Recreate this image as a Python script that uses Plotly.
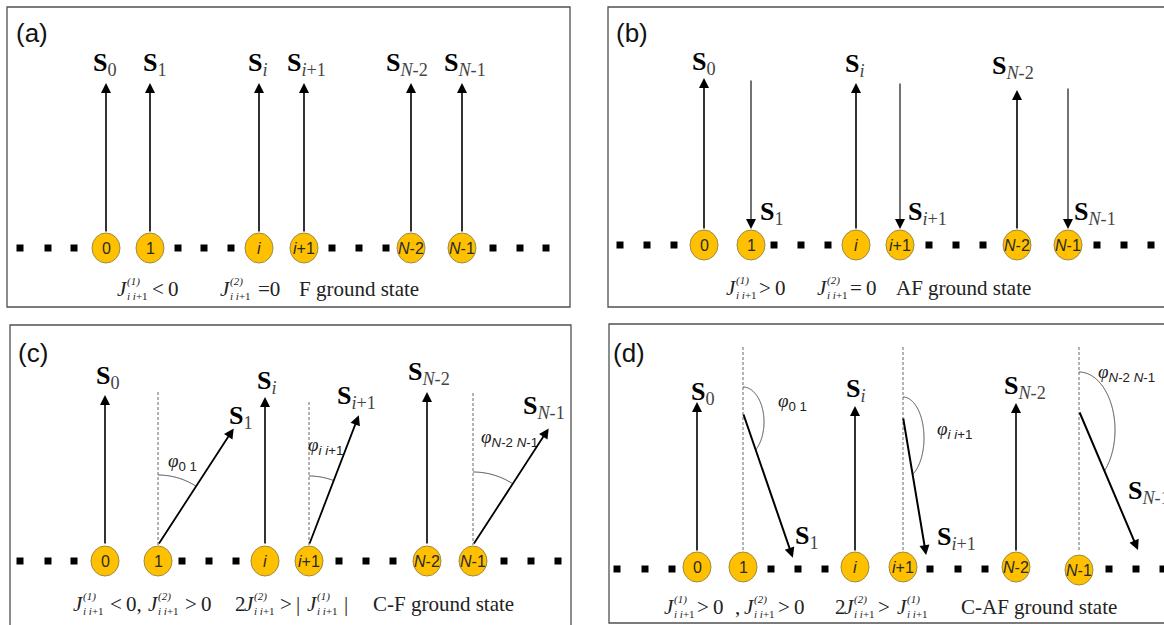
import math
import plotly.graph_objects as go

# ---------------- data ----------------
PANEL_TAGS = ["(a)", "(b)", "(c)", "(d)"]
SITE_LABELS = ["0", "1", "<i>i</i>", "<i>i</i>+1", "<i>N</i>-2", "<i>N</i>-1"]
SPIN_SUBS = ["0", "1", "<i>i</i>", "<i>i</i>+1", "<i>N</i>-2", "<i>N</i>-1"]
# spin direction, degrees clockwise from "up"
SPIN_ANGLE_A = [0, 0, 0, 0, 0, 0]
SPIN_ANGLE_B = [0, 180, 0, 180, 0, 180]
SPIN_ANGLE_C = [0, 33, 0, 21, 0, 33]
SPIN_ANGLE_D = [0, 161, 0, 170.5, 0, 157]
CANTED_SITES = [1, 3, 5]
PHI_SUBS = ["0 1", "<i>i i</i>+1", "<i>N</i>-2 <i>N</i>-1"]
STATE_NAMES = ["F ground state", "AF ground state", "C-F ground state", "C-AF ground state"]
SUP1, SUP2 = "(1)", "(2)"

# ---------------- layout geometry ----------------
SERIF = "Liberation Serif"
SANS = "Liberation Sans"
W, H = 1164, 625

PANELS = [
    dict(box=(7, 7, 570, 307), tag=(15, 33), angles=SPIN_ANGLE_A,
         site_x=[106, 150, 259, 304, 411, 462], site_y=[248] * 6,
         dots_x=[20, 48, 74, 178, 204, 231, 332, 359, 386, 493, 520, 546], dots_y=248,
         tail_y=[233] * 6, length=[150] * 6, width=[1.6] * 6,
         labels=[(92, 64), (142, 64), (247, 64), (286, 64), (385, 64), (443, 64)],
         dash=None, arcs=None, phi=None,
         cap_y=289,
         caption=[("J", 116, SUP1), ("t", 151, "<\u20090"), ("J", 219, SUP2), ("t", 257, "=0"),
                  ("t", 298, STATE_NAMES[0])]),
    dict(box=(608, 7, 1180, 307), tag=(615, 33), angles=SPIN_ANGLE_B,
         site_x=[704, 751, 856, 900, 1017, 1068], site_y=[245] * 6,
         dots_x=[620, 647, 674, 774, 801, 828, 929, 956, 983, 1097, 1124, 1151], dots_y=245,
         tail_y=[230, 79, 230, 82, 230, 87], length=[152, 150, 147, 147, 140, 142],
         width=[1.6, 1.1, 1.6, 1.1, 1.6, 1.1],
         labels=[(691, 63), (759, 213), (844, 65), (907, 213), (991, 67), (1073, 213)],
         dash=None, arcs=None, phi=None,
         cap_y=288,
         caption=[("J", 725, SUP1), ("t", 758, ">\u20090"), ("J", 816, SUP2), ("t", 849, "=\u20090"),
                  ("t", 895, STATE_NAMES[1])]),
    dict(box=(10, 325, 571, 640), tag=(17, 353), angles=SPIN_ANGLE_C,
         site_x=[105, 158, 265, 309, 427, 473], site_y=[561] * 6,
         dots_x=[20, 48, 74, 182, 209, 236, 339, 366, 393, 504, 531, 558], dots_y=561,
         tail_y=[545] * 6, length=[150, 139, 148, 139, 153, 139],
         width=[1.6, 1.8, 1.6, 1.8, 1.6, 1.8],
         labels=[(95, 377), (228, 417), (256, 382), (336, 397), (407, 373), (522, 407)],
         dash=[392, 402, 393], dash_bottom=545,
         arcs=[(0, 70, 70), (0, 69, 69), (0, 73, 73)],
         phi=[(167, 462), (307, 446), (480, 438)],
         cap_y=604,
         caption=[("J", 72, SUP1), ("t", 109, "<\u20090,"), ("J", 147, SUP2), ("t", 184, ">\u20090"),
                  ("t", 234, "2"), ("J", 243, SUP2), ("t", 279, ">\u2009|"), ("J", 306, SUP1),
                  ("t", 343, "|"), ("t", 372, STATE_NAMES[2])]),
    dict(box=(609, 324, 1180, 623), tag=(612, 353), angles=SPIN_ANGLE_D,
         site_x=[697, 743, 855, 903, 1016, 1079], site_y=[567, 567, 567, 567, 567, 570],
         dots_x=[617, 645, 672, 771, 798, 825, 930, 958, 985, 1109, 1136, 1163], dots_y=569,
         tail_y=[552, 413, 552, 417, 552, 411], length=[150, 153, 146, 140, 149, 151],
         width=[1.6, 2.0, 1.6, 2.0, 1.6, 2.0],
         labels=[(690, 393), (794, 537), (845, 390), (936, 538), (1003, 387), (1127, 492)],
         dash=[347, 347, 347], dash_bottom=552,
         arcs=[(9, 21, 35), (21, 21, 41), (19, 36, 58)],
         phi=[(777, 402), (936, 430), (1097, 373)],
         cap_y=607,
         caption=[("J", 663, SUP1), ("t", 696, ">\u20090"), ("t", 734, ","), ("J", 743, SUP2),
                  ("t", 777, ">\u20090"), ("t", 834, "2"), ("J", 843, SUP2), ("t", 877, ">"),
                  ("J", 896, SUP1), ("t", 960, STATE_NAMES[3])]),
]

fig = go.Figure()
shapes = []
annotations = []


def text_ann(x, y, text, size, family=SERIF, color="#222", xanchor="left"):
    return dict(x=x, y=y, xref="x", yref="y", text=text, showarrow=False,
                font=dict(family=family, size=size, color=color),
                xanchor=xanchor, yanchor="middle", align="left", borderpad=0)


for idx, p in enumerate(PANELS):
    x0, y0, x1, y1 = p["box"]
    shapes.append(dict(type="rect", xref="x", yref="y", x0=x0, y0=y0, x1=x1, y1=y1,
                       line=dict(color="#505050", width=1.3), fillcolor="rgba(0,0,0,0)", layer="below"))
    annotations.append(text_ann(p["tag"][0], p["tag"][1], PANEL_TAGS[idx], 26, SANS, "#111"))

    # chain dots
    fig.add_trace(go.Scatter(x=p["dots_x"], y=[p["dots_y"]] * len(p["dots_x"]), mode="markers",
                             marker=dict(symbol="square", size=7, color="black"),
                             hoverinfo="skip", showlegend=False))

    # dashed reference lines + angle arcs
    if p["dash"]:
        for j, k in enumerate(CANTED_SITES):
            sx = p["site_x"][k]
            shapes.append(dict(type="line", xref="x", yref="y", x0=sx, x1=sx,
                               y0=p["dash"][j], y1=p["dash_bottom"],
                               line=dict(color="#555", width=0.9, dash="3px,2px")))
            dy, rx, ry = p["arcs"][j]
            tx, ty = sx, p["tail_y"][k]
            a = math.radians(p["angles"][k])
            dx_, dy_ = math.sin(a), -math.cos(a)
            cx, cy = tx, ty + dy
            pts = []
            prev = None
            for t10 in range(0, 1801):
                th = math.radians(t10 / 10)
                px, py = cx + rx * math.sin(th), cy - ry * math.cos(th)
                cross = (px - tx) * dy_ - (py - ty) * dx_
                if t10 > 50 and prev is not None and (cross > 0) != (prev > 0):
                    pts.append((px, py))
                    break
                pts.append((px, py))
                prev = cross
            path = "M " + " L ".join(f"{u:.2f},{v:.2f}" for u, v in pts[::5] + [pts[-1]])
            shapes.append(dict(type="path", xref="x", yref="y", path=path,
                               line=dict(color="#333", width=0.9)))
            fx, fy = p["phi"][j]
            annotations.append(text_ann(
                fx, fy,
                f"<i>φ</i><sub><span style='font-family:{SANS}'>{PHI_SUBS[j]}</span></sub>",
                19, SERIF, "#222"))

    # spin arrows
    for k in range(6):
        sx = p["site_x"][k]
        a = math.radians(p["angles"][k])
        tx, ty = sx, p["tail_y"][k]
        hx = tx + p["length"][k] * math.sin(a)
        hy = ty - p["length"][k] * math.cos(a)
        w = p["width"][k]
        annotations.append(dict(x=hx, y=hy, ax=tx, ay=ty, xref="x", yref="y", axref="x", ayref="y",
                                text="", showarrow=True, arrowhead=2, arrowsize=2.0 / w,
                                arrowwidth=w, arrowcolor="black",
                                standoff=0, startstandoff=0))
        lx, ly = p["labels"][k]
        annotations.append(text_ann(
            lx, ly,
            f"<b>S</b><sub><span style='color:#444'>{SPIN_SUBS[k]}</span></sub>",
            26, SERIF, "#000"))

    # sites
    for k in range(6):
        sx, sy = p["site_x"][k], p["site_y"][k]
        shapes.append(dict(type="circle", xref="x", yref="y", x0=sx - 14, x1=sx + 14,
                           y0=sy - 15, y1=sy + 15, fillcolor="#FFC000",
                           line=dict(color="#9c8a45", width=1), layer="above"))
        annotations.append(text_ann(sx, sy, SITE_LABELS[k], 16, SANS, "#2a2a2a", xanchor="center"))

    # caption
    cy = p["cap_y"]
    for kind, x, s in p["caption"]:
        if kind == "J":
            annotations.append(text_ann(x, cy, "<i>J</i>", 21, SERIF, "#222"))
            annotations.append(text_ann(x + 10, cy - 8, f"<i>{s}</i>", 11, SERIF, "#222"))
            annotations.append(text_ann(x + 10, cy + 7, "<i>i i</i>+1", 11, SERIF, "#222"))
        else:
            annotations.append(text_ann(x, cy, s, 21, SERIF, "#222"))

fig.update_layout(
    width=W, height=H, margin=dict(l=0, r=0, t=0, b=0),
    paper_bgcolor="white", plot_bgcolor="white", showlegend=False,
    xaxis=dict(range=[0, W], visible=False, fixedrange=True),
    yaxis=dict(range=[H, 0], visible=False, fixedrange=True),
    shapes=shapes, annotations=annotations,
)
fig.write_html("out.html", config={"displayModeBar": False},
               post_script="document.body.style.margin='0';document.body.style.overflow='hidden';")
